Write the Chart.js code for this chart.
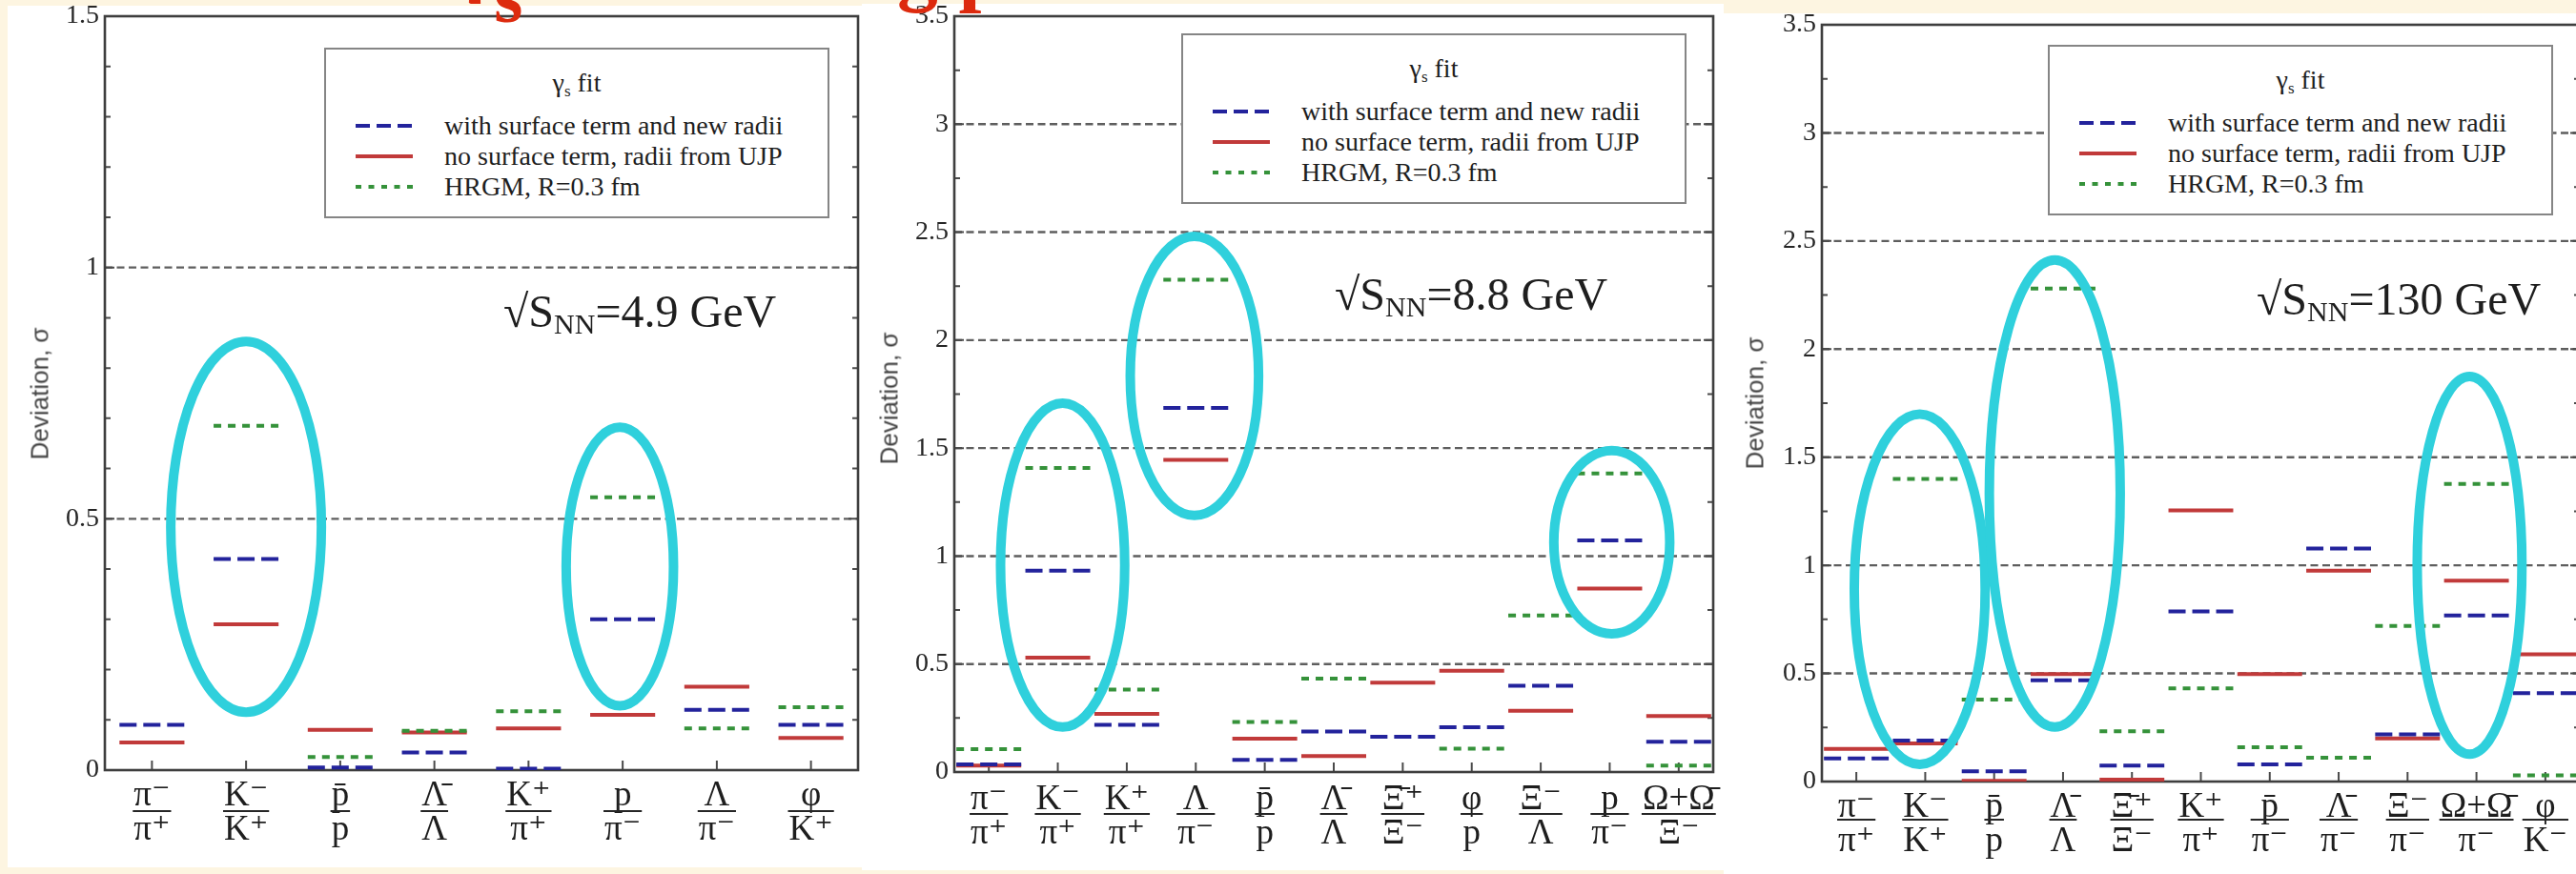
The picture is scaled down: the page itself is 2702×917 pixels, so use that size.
<!DOCTYPE html>
<html>
<head>
<meta charset="utf-8">
<script src="https://cdn.jsdelivr.net/npm/chart.js"></script>
<style>
  html, body { margin: 0; padding: 0; }
  body {
    width: 2702px; height: 917px; overflow: hidden; position: relative;
    background: #fdf5e1;
    font-family: 'Liberation Serif', 'DejaVu Serif', serif;
  }
  .panel { position: absolute; background: #fff; }
  .panel canvas { position: absolute; left: 0; top: 0; }
  .legend {
    position: absolute; box-sizing: border-box; width: 530px; height: 179px;
    border: 2px solid #858585; background: #fff; color: #1e1e1e;
    font-size: 28px; line-height: 28px;
  }
  .legend .ttl { position: absolute; left: 0; right: 0; top: 21px; text-align: center; }
  .legend .smp { position: absolute; left: 31px; }
  .legend .txt { position: absolute; left: 124px; white-space: nowrap; }
  .energy {
    position: absolute; font-size: 48px; line-height: 48px; color: #1e1e1e; white-space: nowrap;
  }
  .energy .nn { font-size: 30px; position: relative; top: 7px; }
  .ytitle {
    position: absolute; font-family: 'Liberation Sans', Arimo, sans-serif; font-size: 26px;
    color: #444; white-space: nowrap; transform: translate(-50%, -50%) rotate(-90deg);
  }
  .headline {
    position: absolute; left: 478px; top: -77px; z-index: 10; white-space: nowrap;
    font-weight: bold; font-size: 86px; line-height: 86px; color: #dd2a0e;
  }
  .headline .g { position: relative; top: -10px; }
  .headline .sub { position: relative; top: 28px; font-size: 0.9em; }
</style>
</head>
<body>

<div class="headline"><span class="g">γ</span><span class="sub">s</span> fit is strong proof</div>

<div class="panel" style="left:8px;top:6px;width:896px;height:904px"><canvas id="c49" width="896" height="904"></canvas></div>
<div class="panel" style="left:904px;top:4px;width:904px;height:909px"><canvas id="c88" width="904" height="909"></canvas></div>
<div class="panel" style="left:1808px;top:14px;width:920px;height:903px"><canvas id="c130" width="920" height="903"></canvas></div>

<div class="ytitle" style="left:42px;top:413px">Deviation, σ</div>
<div class="ytitle" style="left:933px;top:418px">Deviation, σ</div>
<div class="ytitle" style="left:1841px;top:423px">Deviation, σ</div>

<div class="energy" style="left:528px;top:303px">√S<span class="nn">NN</span>=4.9 GeV</div>
<div class="energy" style="left:1400px;top:285px">√S<span class="nn">NN</span>=8.8 GeV</div>
<div class="energy" style="left:2367px;top:290px">√S<span class="nn">NN</span>=130 GeV</div>

<div id="legends"></div>

<script>
// ---- ratios shown on each panel (numerator, denominator) ----
const cats49 = [['π⁻','π⁺'], ['K⁻','K⁺'], ['p\u0304','p'], ['Λ\u0304','Λ'], ['K⁺','π⁺'], ['p','π⁻'], ['Λ','π⁻'], ['φ','K⁺']];
const cats88 = [['π⁻','π⁺'], ['K⁻','π⁺'], ['K⁺','π⁺'], ['Λ','π⁻'], ['p\u0304','p'], ['Λ\u0304','Λ'], ['Ξ\u0304⁺','Ξ⁻'], ['φ','p'], ['Ξ⁻','Λ'], ['p','π⁻'], ['Ω+Ω\u0304','Ξ⁻']];
const cats130 = [['π⁻','π⁺'], ['K⁻','K⁺'], ['p\u0304','p'], ['Λ\u0304','Λ'], ['Ξ\u0304⁺','Ξ⁻'], ['K⁺','π⁺'], ['p\u0304','π⁻'], ['Λ\u0304','π⁻'], ['Ξ⁻','π⁻'], ['Ω+Ω\u0304','π⁻'], ['φ','K⁻']];

// ---- deviations (in sigma) for the three fits ----
// 4.9 GeV
const surf49 = [0.09, 0.42, 0.005, 0.035, 0.003, 0.30, 0.12, 0.09];
const ujp49  = [0.055, 0.29, 0.08, 0.075, 0.083, 0.11, 0.166, 0.064];
const hrgm49 = [null, 0.685, 0.026, 0.078, 0.117, 0.543, 0.083, 0.125];
// 8.8 GeV
const surf88 = [0.035, 0.932, 0.219, 1.686, 0.056, 0.188, 0.163, 0.207, 0.399, 1.072, 0.14];
const ujp88  = [0.03, 0.53, 0.269, 1.445, 0.154, 0.074, 0.414, 0.469, 0.284, 0.85, 0.259];
const hrgm88 = [0.106, 1.408, 0.382, 2.28, 0.232, 0.432, null, 0.108, 0.725, 1.383, 0.03];
// 130 GeV
const surf130 = [0.107, 0.19, 0.047, 0.468, 0.074, 0.787, 0.079, 1.078, 0.218, 0.768, 0.409];
const ujp130  = [0.151, 0.176, 0.003, 0.497, 0.009, 1.254, 0.497, 0.975, 0.20, 0.929, 0.588];
const hrgm130 = [null, 1.40, 0.379, 2.28, 0.232, 0.431, 0.159, 0.110, 0.72, 1.376, 0.029];

// ---- labelled y ticks ----
const yTicks49 = [0, 0.5, 1, 1.5];
const yTicks88 = [0, 0.5, 1, 1.5, 2, 2.5, 3, 3.5];
const yTicks130 = [0, 0.5, 1, 1.5, 2, 2.5, 3, 3.5];

// ---- highlighted ratios: centre and half-axes in data units ----
const rings49 = [{x: 1, y: 0.484, rx: 0.8, ry: 0.369}, {x: 4.97, y: 0.405, rx: 0.57, ry: 0.277}];
const rings88 = [{x: 1.07, y: 0.958, rx: 0.9, ry: 0.75}, {x: 2.98, y: 1.834, rx: 0.93, ry: 0.646}, {x: 9.03, y: 1.064, rx: 0.84, ry: 0.424}];
const rings130 = [{x: 0.92, y: 0.889, rx: 0.95, ry: 0.81}, {x: 2.88, y: 1.332, rx: 0.95, ry: 1.08}, {x: 8.9, y: 1.0, rx: 0.76, ry: 0.873}];

const SERIES = [
  {label: 'with surface term and new radii', color: '#23239c', dash: [18, 7], order: 1},
  {label: 'no surface term, radii from UJP', color: '#c13a3a', dash: [], order: 2},
  {label: 'HRGM, R=0.3 fm', color: '#35923a', dash: [8, 7], order: 0}
];
const SERIF = "'Liberation Serif', 'DejaVu Serif', serif";
const LABEL_FONT = 37;

// each value becomes a short horizontal stroke centred on its ratio
function strokes(values, half) {
  const pts = [];
  values.forEach((v, i) => {
    if (v === null) return;
    pts.push({x: i - half, y: v}, {x: i + half, y: v}, {x: i + 0.5, y: null});
  });
  return pts;
}

const decor = {
  id: 'decor',
  beforeDatasetsDraw(chart, args, o) {
    const {ctx, chartArea: a, scales: {x, y}} = chart;
    ctx.save();
    // dashed reference lines
    ctx.strokeStyle = '#5e5e5e'; ctx.lineWidth = 2.4; ctx.setLineDash([8, 4.5]);
    o.yTicks.forEach(v => {
      if (v <= y.min || v >= y.max) return;
      const py = y.getPixelForValue(v);
      ctx.beginPath(); ctx.moveTo(a.left, py); ctx.lineTo(a.right, py); ctx.stroke();
    });
    ctx.setLineDash([]);
    // inward ticks on both vertical sides
    ctx.strokeStyle = '#4a4a4a'; ctx.lineWidth = 2;
    const n = Math.round(y.max / o.minor);
    for (let k = 1; k < n; k++) {
      const v = k * o.minor;
      const major = o.yTicks.some(t => Math.abs(t - v) < 1e-6);
      const len = major ? 10 : 6;
      const py = y.getPixelForValue(v);
      ctx.beginPath();
      ctx.moveTo(a.left, py); ctx.lineTo(a.left + len, py);
      ctx.moveTo(a.right, py); ctx.lineTo(a.right - len, py);
      ctx.stroke();
    }
    // category ticks
    o.cats.forEach((c, i) => {
      const px = x.getPixelForValue(i);
      ctx.beginPath(); ctx.moveTo(px, a.bottom); ctx.lineTo(px, a.bottom - 10); ctx.stroke();
    });
    // frame
    ctx.strokeStyle = '#3e3e3e'; ctx.lineWidth = 2.6;
    ctx.strokeRect(a.left, a.top, a.right - a.left, a.bottom - a.top);
    ctx.restore();
  },
  afterDatasetsDraw(chart, args, o) {
    const {ctx, scales: {x, y}} = chart;
    ctx.save();
    ctx.strokeStyle = '#2fd0dc'; ctx.lineWidth = 10;
    o.rings.forEach(r => {
      const cx = x.getPixelForValue(r.x), cy = y.getPixelForValue(r.y);
      const rx = x.getPixelForValue(r.x + r.rx) - cx;
      const ry = cy - y.getPixelForValue(r.y + r.ry);
      ctx.beginPath(); ctx.ellipse(cx, cy, rx, ry, 0, 0, Math.PI * 2); ctx.stroke();
    });
    ctx.restore();
  },
  afterDraw(chart, args, o) {
    // fraction bars between numerator and denominator
    const {ctx, chartArea: a, scales: {x}} = chart;
    ctx.save();
    ctx.font = LABEL_FONT + 'px ' + SERIF;
    ctx.strokeStyle = '#262626'; ctx.lineWidth = 2;
    o.cats.forEach((c, i) => {
      const w = Math.max(ctx.measureText(c[0]).width, ctx.measureText(c[1]).width) + 2;
      const px = x.getPixelForValue(i), py = a.bottom + o.barY;
      ctx.beginPath(); ctx.moveTo(px - w / 2, py); ctx.lineTo(px + w / 2, py); ctx.stroke();
    });
    ctx.restore();
  }
};

function panel(id, p) {
  const cv = document.getElementById(id);
  const W = cv.width, H = cv.height;
  const values = [p.surf, p.ujp, p.hrgm];
  new Chart(cv, {
    type: 'line',
    data: {
      datasets: SERIES.map((s, k) => ({
        label: s.label,
        data: strokes(values[k], p.half),
        borderColor: s.color, borderWidth: 4, borderDash: s.dash,
        borderCapStyle: 'butt', pointRadius: 0, spanGaps: false, fill: false,
        tension: 0, order: s.order
      }))
    },
    options: {
      responsive: false, animation: false, devicePixelRatio: 1,
      layout: {padding: {left: 0, top: p.area.top, right: W - p.area.right, bottom: 0}},
      plugins: {
        legend: {display: false}, tooltip: {enabled: false},
        decor: {yTicks: p.yTicks, minor: p.minor, cats: p.cats, rings: p.rings, barY: p.barY}
      },
      scales: {
        x: {
          type: 'linear', min: -0.5, max: p.cats.length - 0.5, bounds: 'data',
          grid: {display: false, drawTicks: false}, border: {display: false},
          afterBuildTicks: s => { s.ticks = p.cats.map((c, i) => ({value: i})); },
          afterFit: s => { s.height = H - p.area.bottom; s.paddingLeft = 0; s.paddingRight = 0; },
          ticks: {
            autoSkip: false, maxRotation: 0, minRotation: 0, padding: p.labelPad,
            color: '#1e1e1e', font: {family: SERIF, size: LABEL_FONT, lineHeight: 36 / LABEL_FONT},
            callback: v => p.cats[v]
          }
        },
        y: {
          type: 'linear', min: 0, max: p.yTicks[p.yTicks.length - 1],
          grid: {display: false, drawTicks: false}, border: {display: false},
          afterBuildTicks: s => { s.ticks = p.yTicks.map(v => ({value: v})); },
          afterFit: s => { s.width = p.area.left; s.paddingTop = 0; s.paddingBottom = 0; },
          ticks: {padding: 6, color: '#262626', font: {family: SERIF, size: 28}, callback: v => String(v)}
        }
      }
    },
    plugins: [decor]
  });
}

panel('c49', {
  cats: cats49, surf: surf49, ujp: ujp49, hrgm: hrgm49, yTicks: yTicks49, rings: rings49,
  minor: 0.1, half: 0.345, labelPad: 9, barY: 43,
  area: {left: 102, top: 11, right: 892, bottom: 802}
});
panel('c88', {
  cats: cats88, surf: surf88, ujp: ujp88, hrgm: hrgm88, yTicks: yTicks88, rings: rings88,
  minor: 0.25, half: 0.47, labelPad: 11, barY: 44,
  area: {left: 97, top: 13, right: 893, bottom: 806}
});
panel('c130', {
  cats: cats130, surf: surf130, ujp: ujp130, hrgm: hrgm130, yTicks: yTicks130, rings: rings130,
  minor: 0.25, half: 0.47, labelPad: 9, barY: 40,
  area: {left: 103, top: 12, right: 898, bottom: 806}
});

// ---- legend boxes ----
const legendBoxes = [[340, 50], [1239, 35], [2148, 47]];
const sampleDash = ['15 7', '', '6 7.5'];
const host = document.getElementById('legends');
legendBoxes.forEach(([lx, ly]) => {
  const box = document.createElement('div');
  box.className = 'legend';
  box.style.left = lx + 'px'; box.style.top = ly + 'px';
  let html = '<div class="ttl">γ<span style="font-size:17px;position:relative;top:5px">s</span> fit</div>';
  SERIES.forEach((s, k) => {
    const cy = 80 + k * 32;
    html += '<svg class="smp" width="60" height="8" style="top:' + (cy - 4) + 'px">' +
      '<line x1="0" y1="4" x2="60" y2="4" stroke="' + s.color + '" stroke-width="4"' +
      (sampleDash[k] ? ' stroke-dasharray="' + sampleDash[k] + '"' : '') + '/></svg>';
    html += '<div class="txt" style="top:' + (cy - 14.5) + 'px">' + s.label + '</div>';
  });
  box.innerHTML = html;
  host.appendChild(box);
});
</script>
</body>
</html>
